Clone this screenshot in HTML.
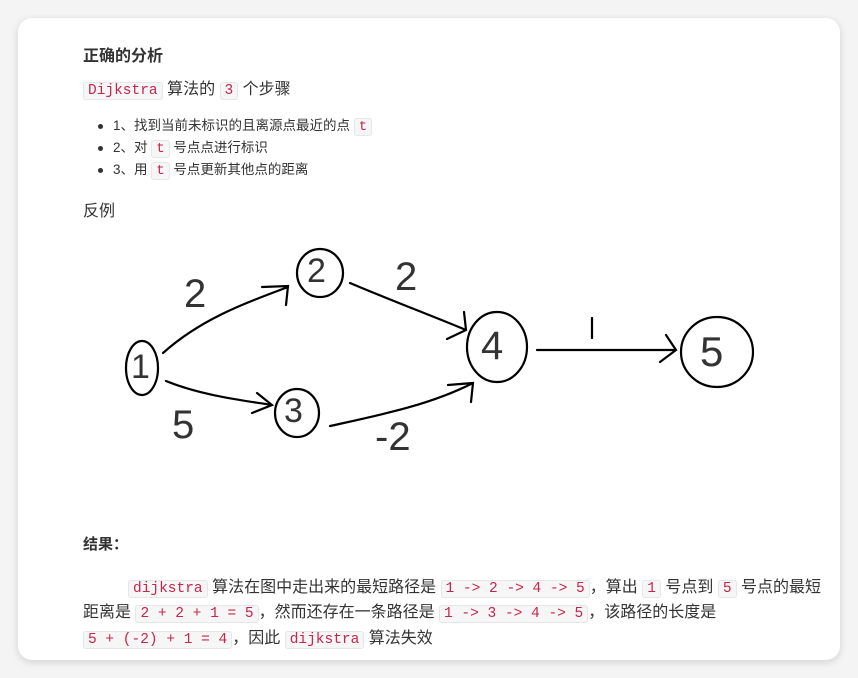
<!DOCTYPE html>
<html><head><meta charset="utf-8"><style>
body{margin:0;width:858px;height:678px;background:#f4f4f4;font-family:"Liberation Sans","Noto Sans CJK SC",sans-serif;color:#333;position:relative;overflow:hidden}
.card{position:absolute;left:18px;top:18px;width:822px;height:642px;background:#fff;border-radius:14px;box-shadow:0 2px 8px rgba(0,0,0,.15)}
.t{position:absolute;white-space:nowrap;font-size:14px}
code{font-family:"Liberation Mono",monospace;color:#c7254e;background:#f6f6f6;border:1px solid #e6e6e6;border-radius:3px;padding:0 4px;font-size:14.5px}
.dot{display:inline-block;width:5px;height:5px;border-radius:50%;background:#333;margin-right:10px;vertical-align:middle}
.p{font-size:16px}
</style></head><body>
<div class="card"></div>
<div class="t" style="left:83px;top:42px;font-size:16px;font-weight:bold">正确的分析</div>
<div class="t" style="left:83px;top:75px;font-size:16px"><code>Dijkstra</code> 算法的 <code>3</code> 个步骤</div>
<div class="t" style="left:98px;top:114px;font-size:13.5px"><span class="dot"></span>1、找到当前未标识的且离源点最近的点 <code style="font-size:14px">t</code></div>
<div class="t" style="left:98px;top:136px;font-size:13.5px"><span class="dot"></span>2、对 <code style="font-size:14px">t</code> 号点点进行标识</div>
<div class="t" style="left:98px;top:158px;font-size:13.5px"><span class="dot"></span>3、用 <code style="font-size:14px">t</code> 号点更新其他点的距离</div>
<div class="t" style="left:83px;top:197px;font-size:16px">反例</div>
<svg style="position:absolute;left:0;top:0" width="858" height="678" fill="none" stroke="#000" stroke-width="2.2" stroke-linecap="round">
<ellipse cx="142" cy="368" rx="16" ry="27"/>
<ellipse cx="320" cy="273" rx="23" ry="24"/>
<ellipse cx="297" cy="413" rx="22" ry="24"/>
<ellipse cx="497" cy="347" rx="30" ry="35"/>
<ellipse cx="717" cy="352" rx="36" ry="35"/>
<path d="M163 353 C200 320 240 305 288 287 M262 287 L288 286 L286 305"/>
<path d="M350 283 C390 300 430 315 466 330 M464 312 L466 330 L447 339"/>
<path d="M166 381 C200 395 240 400 272 405 M257 393 L272 405 L252 413"/>
<path d="M330 426 C380 415 430 405 473 383 M448 385 L473 383 L471 402"/>
<path d="M537 350 L675 350 M666 335 L676 350 L660 362"/>
<path d="M592 318 L592 338"/>
</svg>
<div class="t" style="left:184px;top:272px;font-size:40px;font-weight:300">2</div>
<div class="t" style="left:395px;top:255px;font-size:40px">2</div>
<div class="t" style="left:172px;top:403px;font-size:40px">5</div>
<div class="t" style="left:375px;top:415px;font-size:40px">-2</div>
<div class="t" style="left:131px;top:348px;font-size:34px">1</div>
<div class="t" style="left:307px;top:252px;font-size:34px">2</div>
<div class="t" style="left:284px;top:392px;font-size:34px">3</div>
<div class="t" style="left:481px;top:324px;font-size:40px">4</div>
<div class="t" style="left:700px;top:328px;font-size:42px">5</div>
<div class="t" style="left:83px;top:533px;font-weight:bold;font-size:15px">结果：</div>
<div class="t p" style="left:83px;top:573px"><span style="display:inline-block;width:45px"></span><code>dijkstra</code> 算法在图中走出来的最短路径是 <code>1 -&gt; 2 -&gt; 4 -&gt; 5</code>，算出 <code>1</code> 号点到 <code>5</code> 号点的最短</div>
<div class="t p" style="left:83px;top:598px">距离是 <code>2 + 2 + 1 = 5</code>，然而还存在一条路径是 <code>1 -&gt; 3 -&gt; 4 -&gt; 5</code>，该路径的长度是</div>
<div class="t p" style="left:83px;top:624px"><code>5 + (-2) + 1 = 4</code>，因此 <code>dijkstra</code> 算法失效</div>
</body></html>
